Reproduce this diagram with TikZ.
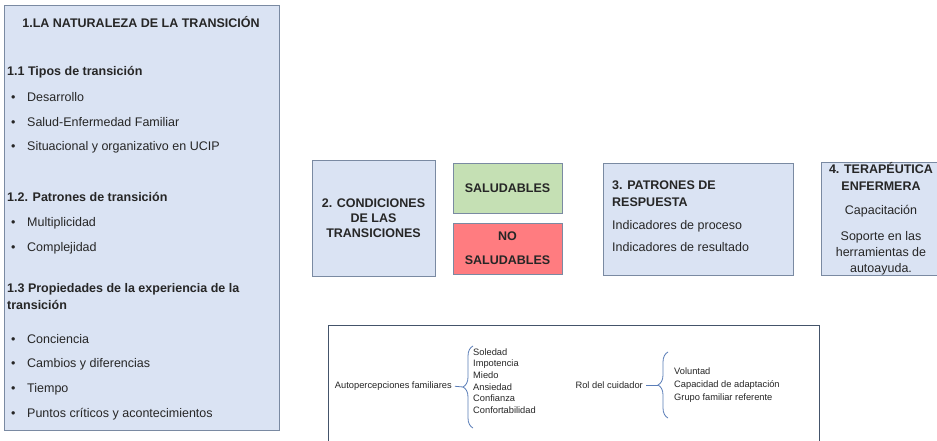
\documentclass[tikz,border=0pt]{standalone}
\usepackage{fontspec}
\setmainfont{Liberation Sans}
\usepackage{xcolor}
\usetikzlibrary{positioning,decorations.pathreplacing}
\definecolor{panelfill}{HTML}{DAE3F3}
\definecolor{panelline}{HTML}{7A8AA2}
\definecolor{okfill}{HTML}{C5E0B4}
\definecolor{badfill}{HTML}{FF7C80}
\definecolor{braceblue}{HTML}{5A7DB8}
\definecolor{frameline}{HTML}{44546A}
\newcommand{\bulletmark}{\makebox[16pt][l]{•}}

\begin{document}
\begin{tikzpicture}[x=1pt,y=-1pt,
  every node/.style={font=\fontsize{12.5}{15}\selectfont,inner sep=0pt,text=black!85},
  panel/.style={draw=panelline,fill=panelfill,line width=0.9pt},
  item/.style={anchor=west},
  head/.style={anchor=west,font=\fontsize{12.5}{17}\selectfont\bfseries,align=left},
  small/.style={font=\fontsize{9.3}{11.6}\selectfont},
  bracket/.style={draw=braceblue,line width=0.8pt,decorate,decoration={brace,amplitude=10pt}}]
\clip (0,0) rectangle (937,441);
\fill[white] (0,0) rectangle (937,441);
\node[panel,anchor=north west,minimum width=275pt,minimum height=425pt] (nat) at (4,5) {};
\node[font=\fontsize{12.5}{15}\selectfont\bfseries] (natT) at (141,22) {1.LA NATURALEZA DE LA TRANSICIÓN};
\node[head] (tipos) at (7,72) {1.1 Tipos de transición};
\node[item] (des) at (11,97) {\bulletmark Desarrollo};
\node[item] (salud) at (11,122) {\bulletmark Salud-Enfermedad Familiar};
\node[item] (sit) at (11,147) {\bulletmark Situacional y organizativo en UCIP};
\node[head] (patr) at (7,197) {1.2. Patrones de transición};
\node[item] (mult) at (11,223) {\bulletmark Multiplicidad};
\node[item] (comp) at (11,248) {\bulletmark Complejidad};
\node[head] (prop) at (7,296.5) {1.3 Propiedades de la experiencia de la\\transición};
\node[item] (conc) at (11,339) {\bulletmark Conciencia};
\node[item] (camb) at (11,364) {\bulletmark Cambios y diferencias};
\node[item] (tiem) at (11,389) {\bulletmark Tiempo};
\node[item] (punt) at (11,414) {\bulletmark Puntos críticos y acontecimientos};

\node[panel,minimum width=123pt,minimum height=116pt,align=center,font=\fontsize{12.5}{15}\selectfont\bfseries] (cond) at (373.5,218) {2. CONDICIONES\\DE LAS\\TRANSICIONES};
\node[draw=panelline,fill=okfill,line width=0.9pt,minimum width=109pt,minimum height=50pt,font=\fontsize{12.5}{15}\selectfont\bfseries] (sano) at (507.5,188) {SALUDABLES};
\node[draw=panelline,fill=badfill,line width=0.9pt,minimum width=109pt,minimum height=51pt,align=center,font=\fontsize{12.5}{24}\selectfont\bfseries] (nosano) at (507.5,248.5) {NO\\SALUDABLES};

\node[panel,anchor=north west,minimum width=190pt,minimum height=112pt] (resp) at (603,163) {};
\node[head] (respT) at (612,193.5) {3. PATRONES DE\\RESPUESTA};
\node[item] (proc) at (612,226) {Indicadores de proceso};
\node[item] (res) at (612,247) {Indicadores de resultado};

\node[panel,anchor=north west,minimum width=130pt,minimum height=113pt] (ter) at (821,162) {};
\node[align=center,font=\fontsize{12.5}{17}\selectfont\bfseries] (terT) at (881,176.5) {4. TERAPÉUTICA\\ENFERMERA};
\node (cap) at (881,211) {Capacitación};
\node[align=center,font=\fontsize{12.5}{16}\selectfont] (sop) at (881,253) {Soporte en las\\herramientas de\\autoayuda.};

\node[draw=frameline,line width=0.8pt,anchor=north west,minimum width=491pt,minimum height=140pt] (frame) at (328,325) {};
\node[small,anchor=east] (auto) at (452,386) {Autopercepciones familiares};
\coordinate (autotip) at (463,387);
\draw[bracket] (473,428) -- (473,346);
\draw[braceblue,line width=0.8pt,shorten <=3pt] (auto.east) -- (autotip);
\node[small,anchor=west,align=left] (autolist) at (473,381) {Soledad\\Impotencia\\Miedo\\Ansiedad\\Confianza\\Confortabilidad};
\node[small,anchor=east] (rol) at (643,385) {Rol del cuidador};
\coordinate (roltip) at (658,385);
\draw[bracket] (668,418) -- (668,352);
\draw[braceblue,line width=0.8pt,shorten <=3pt] (rol.east) -- (roltip);
\node[anchor=west,align=left,font=\fontsize{9.3}{13}\selectfont] (rollist) at (674,385) {Voluntad\\Capacidad de adaptación\\Grupo familiar referente};
\end{tikzpicture}
\end{document}
